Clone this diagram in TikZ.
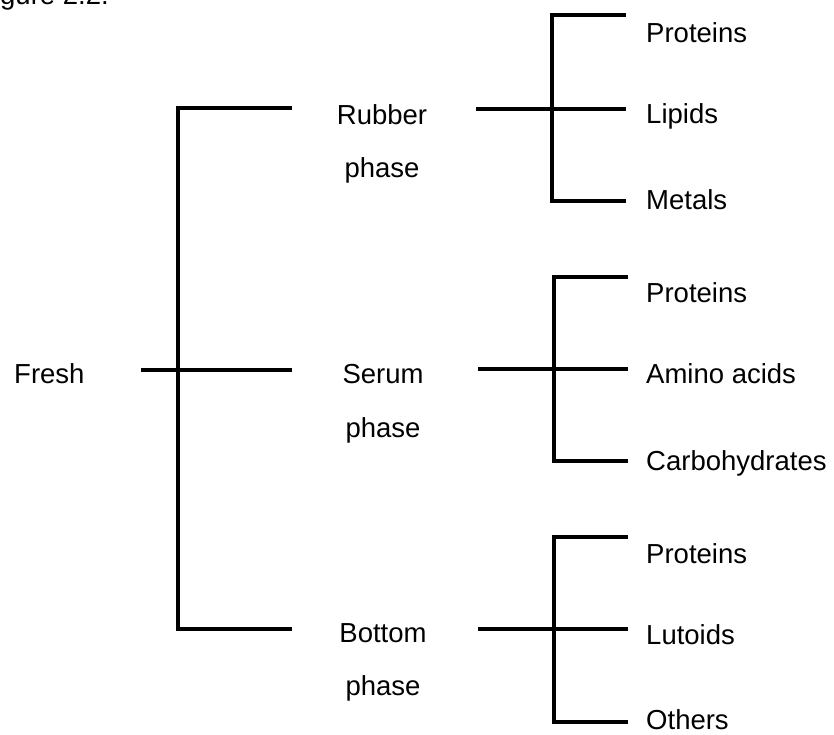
\documentclass[tikz,border=0pt]{standalone}
\usepackage{fontspec}
\setmainfont{Liberation Sans}
\begin{document}
\begin{tikzpicture}[x=1pt,y=-1pt,
  lbl/.style={font=\fontsize{27.5}{33}\selectfont, inner sep=0pt},
  ln/.style={line width=3.2pt, line join=miter, line cap=rect}]
\useasboundingbox (0,0) rectangle (834,734);
\clip (0,0) rectangle (834,734);
% caption fragment
\node[lbl, anchor=base west] (fig) at (0,4.5) {gure 2.2.};
% labels
\node[lbl, anchor=base west] (fresh) at (14,383) {Fresh};
\node[lbl, anchor=base] (rub1) at (382,124) {Rubber};
\node[lbl, anchor=base] (rub2) at (382,177) {phase};
\node[lbl, anchor=base] (ser1) at (383,383) {Serum};
\node[lbl, anchor=base] (ser2) at (383,437) {phase};
\node[lbl, anchor=base] (bot1) at (383,642) {Bottom};
\node[lbl, anchor=base] (bot2) at (383,695) {phase};
\node[lbl, anchor=base west] (r1) at (646,42) {Proteins};
\node[lbl, anchor=base west] (r2) at (646,123) {Lipids};
\node[lbl, anchor=base west] (r3) at (646,209) {Metals};
\node[lbl, anchor=base west] (s1) at (646,302) {Proteins};
\node[lbl, anchor=base west] (s2) at (646,383) {Amino acids};
\node[lbl, anchor=base west] (s3) at (646,470) {Carbohydrates};
\node[lbl, anchor=base west] (b1) at (646,563) {Proteins};
\node[lbl, anchor=base west] (b2) at (646,644) {Lutoids};
\node[lbl, anchor=base west] (b3) at (646,729) {Others};
% main bracket
\coordinate (mT) at (178,108);
\coordinate (mB) at (178,629);
\coordinate (mL) at (143,370);
\coordinate (mRT) at (290,108);
\coordinate (mRM) at (290,370);
\coordinate (mRB) at (290,629);
\draw[ln] (mRT) -- (mT) -- (mB) -- (mRB);
\draw[ln] (mL) -- (mRM);
% rubber group
\coordinate (rL) at (478,109);
\coordinate (rT) at (552,15);
\coordinate (rB) at (552,201);
\coordinate (rE1) at (624,15);
\coordinate (rE2) at (624,109);
\coordinate (rE3) at (624,201);
\draw[ln] (rE1) -- (rT) -- (rB) -- (rE3);
\draw[ln] (rL) -- (rE2);
% serum group
\coordinate (sL) at (480,369);
\coordinate (sT) at (554,277);
\coordinate (sB) at (554,461);
\coordinate (sE1) at (626,277);
\coordinate (sE2) at (626,369);
\coordinate (sE3) at (626,461);
\draw[ln] (sE1) -- (sT) -- (sB) -- (sE3);
\draw[ln] (sL) -- (sE2);
% bottom group
\coordinate (bL) at (480,629);
\coordinate (bT) at (554,537);
\coordinate (bB) at (554,722);
\coordinate (bE1) at (626,537);
\coordinate (bE2) at (626,629);
\coordinate (bE3) at (626,722);
\draw[ln] (bE1) -- (bT) -- (bB) -- (bE3);
\draw[ln] (bL) -- (bE2);
\end{tikzpicture}
\end{document}
